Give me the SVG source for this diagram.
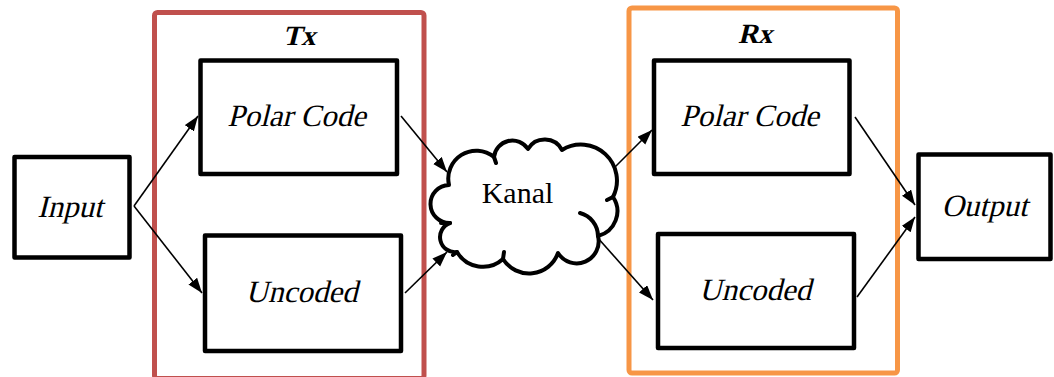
<svg xmlns="http://www.w3.org/2000/svg" width="1054" height="377" viewBox="0 0 1054 377">
<style>
.box{fill:#fff;stroke:#000;stroke-width:4.5;stroke-linejoin:round}
.con{fill:none;stroke:#000;stroke-width:1.6}
</style>
<defs>
<marker id="ah" markerUnits="userSpaceOnUse" markerWidth="16" markerHeight="12" refX="15" refY="5.5" orient="auto">
<path d="M0,0 L15,5.5 L0,11 z" fill="#000"/>
</marker>
</defs>
<rect width="1054" height="377" fill="#fff"/>
<g id="tx">
<rect x="154.5" y="12.5" width="269.5" height="366" rx="3" fill="none" stroke="#C0504D" stroke-width="5"/>
<text font-family="Liberation Serif" font-weight="bold" font-size="28" text-anchor="middle" transform="translate(299,45) skewX(-14)">Tx</text>
</g>
<g id="rx">
<rect x="629" y="8" width="268.5" height="365" rx="3" fill="none" stroke="#F79646" stroke-width="5"/>
<text font-family="Liberation Serif" font-weight="bold" font-size="28" text-anchor="middle" transform="translate(755,43) skewX(-14)">Rx</text>
</g>
<g id="connectors">
<path class="con" d="M134,206 L198,116" marker-end="url(#ah)"/>
<path class="con" d="M134,206 L202,293" marker-end="url(#ah)"/>
<path class="con" d="M401,116 L447,172" marker-end="url(#ah)"/>
<path class="con" d="M405,293 L447,252" marker-end="url(#ah)"/>
<path class="con" d="M615,167 L652,130" marker-end="url(#ah)"/>
<path class="con" d="M597,237 L653,300" marker-end="url(#ah)"/>
<path class="con" d="M855,117 L915,205" marker-end="url(#ah)"/>
<path class="con" d="M857,297 L915,217" marker-end="url(#ah)"/>
</g>
<g id="input">
<rect class="box" x="14.5" y="157" width="115" height="100.5"/>
<text font-family="Liberation Serif" font-size="31" text-anchor="middle" transform="translate(70,217) skewX(-14)">Input</text>
</g>
<g id="tx-polar">
<rect class="box" x="200.5" y="60.5" width="196.5" height="113.5"/>
<text font-family="Liberation Serif" font-size="31" text-anchor="middle" transform="translate(296.5,126) skewX(-14)">Polar Code</text>
</g>
<g id="tx-uncoded">
<rect class="box" x="205" y="235.5" width="196" height="115.5"/>
<text font-family="Liberation Serif" font-size="31" text-anchor="middle" transform="translate(301.5,302) skewX(-14)">Uncoded</text>
</g>
<g id="kanal">
<path d="M449,185 A28,28 0 0 1 494,157 A18.5,18.5 0 0 1 528,149 A19.5,19.5 0 0 1 562,150 A36,36 0 0 1 613,197 A25.5,25.5 0 0 1 598,236 A22,22 0 0 1 558,253 A30.7,30.7 0 0 1 503,259 A30,30 0 0 1 457,252 A15,15 0 0 1 450,223 A19,19 0 0 1 449,185 Z" fill="#fff" stroke="#000" stroke-width="4" stroke-linejoin="round"/>
<path d="M580,213 A24,24 0 0 1 598,236 M494,157 L496,163 M613,197 L607,200 M450,223 L441,223 M457,252 L453,255 M503,259 L504,252" fill="none" stroke="#000" stroke-width="4" stroke-linecap="round"/>
<text font-family="Liberation Serif" font-size="30" text-anchor="middle" x="517.5" y="203">Kanal</text>
</g>
<g id="rx-polar">
<rect class="box" x="654" y="60.5" width="195.5" height="113.5"/>
<text font-family="Liberation Serif" font-size="31" text-anchor="middle" transform="translate(749.5,126) skewX(-14)">Polar Code</text>
</g>
<g id="rx-uncoded">
<rect class="box" x="658" y="234" width="196" height="114"/>
<text font-family="Liberation Serif" font-size="31" text-anchor="middle" transform="translate(755,300) skewX(-14)">Uncoded</text>
</g>
<g id="output">
<rect class="box" x="918.5" y="154.5" width="132" height="104.5"/>
<text font-family="Liberation Serif" font-size="31" text-anchor="middle" transform="translate(984.5,216) skewX(-14)">Output</text>
</g>
</svg>
